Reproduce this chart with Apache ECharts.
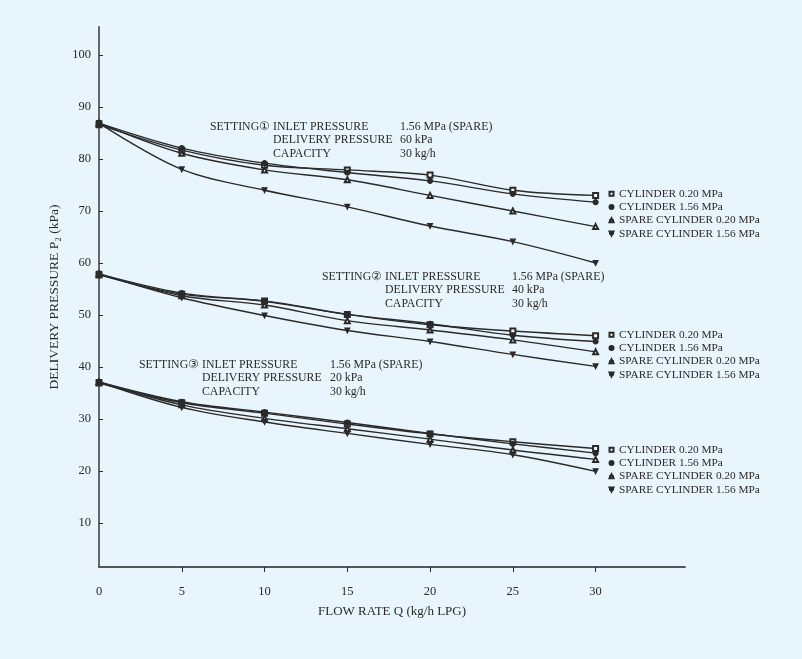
<!DOCTYPE html>
<html>
<head>
<meta charset="utf-8">
<script src="https://cdn.jsdelivr.net/npm/echarts@6/dist/echarts.min.js"></script>
<style>
  html, body { margin: 0; padding: 0; background: #e9f5fc; }
  #chart { width: 802px; height: 659px; }
</style>
</head>
<body>
<div id="chart"></div>
<script>
// flow rate (kg/h)
var flowRates = [0, 5, 10, 15, 20, 25, 30];
var xTicks = [0, 5, 10, 15, 20, 25, 30];
var yTicks = [10, 20, 30, 40, 50, 60, 70, 80, 90, 100];

var seriesNames = ['CYLINDER 0.20 MPa', 'CYLINDER 1.56 MPa', 'SPARE CYLINDER 0.20 MPa', 'SPARE CYLINDER 1.56 MPa'];

// setting 1 : 60 kPa
var s1Cyl020 = [86.6, 81.7, 78.8, 77.9, 76.9, 74.0, 73.0];
var s1Cyl156 = [86.9, 82.1, 79.2, 77.4, 75.8, 73.3, 71.7];
var s1Spr020 = [86.9, 81.1, 77.9, 76.0, 73.0, 70.0, 67.0];
var s1Spr156 = [86.9, 78.0, 74.0, 70.8, 67.1, 64.1, 60.0];

// setting 2 : 40 kPa
var s2Cyl020 = [57.7, 54.0, 52.7, 50.1, 48.1, 46.9, 46.0];
var s2Cyl156 = [57.9, 54.2, 52.6, 50.1, 48.3, 46.1, 44.9];
var s2Spr020 = [57.9, 53.7, 51.9, 48.9, 47.1, 45.2, 42.9];
var s2Spr156 = [57.9, 53.3, 49.9, 47.0, 44.9, 42.4, 40.1];

// setting 3 : 20 kPa
var s3Cyl020 = [36.9, 33.1, 31.1, 29.0, 27.1, 25.6, 24.3];
var s3Cyl156 = [37.1, 33.3, 31.3, 29.3, 27.2, 25.2, 23.4];
var s3Spr020 = [37.1, 32.7, 30.1, 28.1, 26.1, 24.0, 22.2];
var s3Spr156 = [37.1, 32.2, 29.4, 27.2, 25.1, 23.1, 19.9];

var ink = '#2a2a2a';
var font = 'Liberation Serif';
var symbols = ['emptyRect', 'circle', 'emptyTriangle', 'path://M0,0 L10,0 L5,9 Z'];
var symbolSizes = [5, 5, 5, 5];

function pairs(vals) {
    return flowRates.map(function (q, i) { return [q, vals[i]]; });
}

function makeSeries(name, vals, k) {
    return {
        name: name,
        type: 'line',
        smooth: 0.35,
        data: pairs(vals),
        symbol: symbols[k],
        symbolSize: symbolSizes[k],
        showAllSymbol: true,
        lineStyle: { color: ink, width: 1.4 },
        itemStyle: { color: ink, borderColor: ink, borderWidth: 1.1 },
        emphasis: { disabled: true },
        z: 3
    };
}

var groups = [
    [s1Cyl020, s1Cyl156, s1Spr020, s1Spr156],
    [s2Cyl020, s2Cyl156, s2Spr020, s2Spr156],
    [s3Cyl020, s3Cyl156, s3Spr020, s3Spr156]
];
var series = [];
groups.forEach(function (g) {
    g.forEach(function (vals, k) { series.push(makeSeries(seriesNames[k], vals, k)); });
});

function legendAt(top) {
    return {
        orient: 'vertical',
        left: 608,
        top: top,
        padding: 0,
        itemGap: 0,
        itemWidth: 5,
        itemHeight: 5,
        selectedMode: false,
        data: seriesNames,
        textStyle: { fontFamily: font, fontSize: 11.3, color: ink, lineHeight: 13.3 }
    };
}

// annotation block for one setting
function note(x1, x2, x3, y, title, delivery) {
    var st = { fontFamily: font, fontSize: 11.8, fill: ink };
    var rows = [
        [title, 'INLET PRESSURE', '1.56 MPa (SPARE)'],
        ['', 'DELIVERY PRESSURE', delivery],
        ['', 'CAPACITY', '30 kg/h']
    ];
    var out = [];
    rows.forEach(function (r, i) {
        var yy = y + i * 13.3;
        if (r[0]) out.push({ type: 'text', left: x1, top: yy, style: Object.assign({ text: r[0] }, st) });
        out.push({ type: 'text', left: x2, top: yy, style: Object.assign({ text: r[1] }, st) });
        out.push({ type: 'text', left: x3, top: yy, style: Object.assign({ text: r[2] }, st) });
    });
    return out;
}

var chart = echarts.init(document.getElementById('chart'));
var option = {
    backgroundColor: '#e9f5fc',
    animation: false,
    grid: { left: 99, right: 117, top: 27, bottom: 92 },
    xAxis: {
        type: 'value',
        min: 0,
        max: 35.4,
        name: 'FLOW RATE Q (kg/h LPG)',
        nameLocation: 'middle',
        nameGap: 38,
        nameTextStyle: { fontFamily: font, fontSize: 13, color: ink },
        splitLine: { show: false },
        axisLine: { lineStyle: { color: '#555', width: 1.8 } },
        axisTick: { show: true, length: 5, customValues: [5, 10, 15, 20, 25, 30], lineStyle: { color: ink } },
        axisLabel: { customValues: xTicks, margin: 18, fontFamily: font, fontSize: 12.5, color: ink }
    },
    yAxis: {
        type: 'value',
        min: 1.5,
        max: 105.4,
        name: 'DELIVERY PRESSURE P\u2082 (kPa)',
        nameLocation: 'middle',
        nameRotate: 90,
        nameGap: 34,
        nameTextStyle: { fontFamily: font, fontSize: 13.5, color: ink },
        splitLine: { show: false },
        axisLine: { show: true, lineStyle: { color: '#666', width: 2 } },
        axisTick: { show: true, inside: true, length: 4, customValues: yTicks, lineStyle: { color: ink } },
        axisLabel: { customValues: yTicks, margin: 8, fontFamily: font, fontSize: 12.5, color: ink }
    },
    legend: [legendAt(187), legendAt(328), legendAt(443)],
    graphic: [].concat(
        note(210, 273, 400, 121, 'SETTING\u2460', '60 kPa'),
        note(322, 385, 512, 271, 'SETTING\u2461', '40 kPa'),
        note(139, 202, 330, 359, 'SETTING\u2462', '20 kPa')
    ),
    series: series
};
chart.setOption(option);
</script>
</body>
</html>
